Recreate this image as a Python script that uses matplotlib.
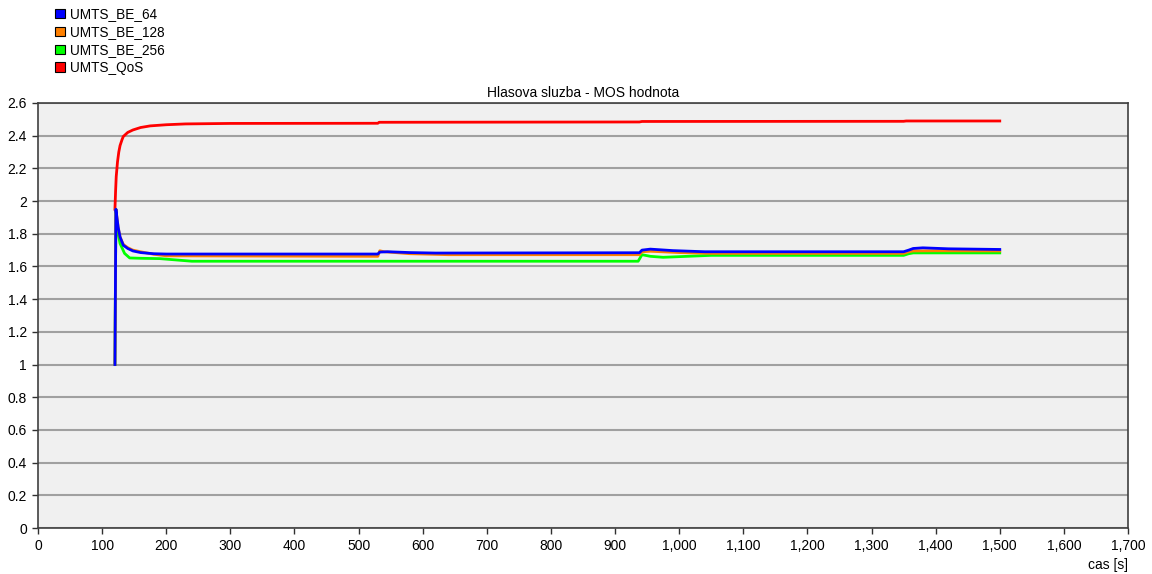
import numpy as np
import matplotlib
matplotlib.use("Agg")
import matplotlib.pyplot as plt
from matplotlib.patches import Patch
from matplotlib.ticker import FuncFormatter, MultipleLocator

plt.rcParams['font.family'] = ['Liberation Sans', 'DejaVu Sans']
plt.rcParams['font.size'] = 10

# values (time in s, MOS value)
t_be64 = [120, 121.5, 125, 128, 133, 140, 148, 160, 180, 200, 530, 533, 545, 580, 620,
          938, 942, 955, 990, 1040, 1350, 1358, 1365, 1380, 1420, 1500]
mos_be64 = [1.0, 1.95, 1.84, 1.78, 1.73, 1.71, 1.695, 1.685, 1.678, 1.676, 1.676, 1.688, 1.69, 1.685, 1.682,
            1.684, 1.70, 1.706, 1.697, 1.69, 1.69, 1.70, 1.71, 1.714, 1.708, 1.704]

t_be128 = [120, 121.5, 125, 128, 133, 140, 148, 160, 180, 200, 530, 533, 540, 580, 640,
           938, 942, 955, 1000, 1050, 1350, 1358, 1365, 1400, 1500]
mos_be128 = [1.0, 1.95, 1.84, 1.78, 1.735, 1.715, 1.70, 1.69, 1.675, 1.665, 1.662, 1.696, 1.69, 1.678, 1.672,
             1.672, 1.69, 1.693, 1.685, 1.68, 1.68, 1.69, 1.695, 1.696, 1.695]

t_be256 = [120, 121.5, 124, 128, 135, 143, 160, 190, 215, 240, 936, 942, 955, 975, 1000, 1050,
           1350, 1358, 1365, 1500]
mos_be256 = [1.0, 1.95, 1.82, 1.74, 1.68, 1.652, 1.65, 1.648, 1.64, 1.632, 1.632, 1.672, 1.662, 1.656, 1.66, 1.668,
             1.668, 1.678, 1.683, 1.683]

t_qos = [120, 121, 122, 124, 126, 128, 131, 133, 140, 148, 160, 175, 200, 230, 300, 530, 532,
         938, 942, 1350, 1354, 1500]
mos_qos = [1.95, 2.06, 2.15, 2.24, 2.30, 2.34, 2.375, 2.395, 2.42, 2.435, 2.45, 2.46, 2.467, 2.472, 2.475, 2.476, 2.482,
           2.484, 2.487, 2.488, 2.49, 2.49]

series_names = ["UMTS_BE_64", "UMTS_BE_128", "UMTS_BE_256", "UMTS_QoS"]
series_colors = ["#0000ff", "#ff8000", "#00ff00", "#ff0000"]

fig = plt.figure(figsize=(11.52, 5.74), dpi=100)
ax = fig.add_axes([38 / 1152, 1 - 528 / 574, 1090 / 1152, 425 / 574])
ax.set_facecolor("#f0f0f0")

ax.plot(t_qos, mos_qos, color=series_colors[3], lw=2, zorder=3)
ax.plot(t_be256, mos_be256, color=series_colors[2], lw=2, zorder=3)
ax.plot(t_be128, mos_be128, color=series_colors[1], lw=2, zorder=3)
ax.plot(t_be64, mos_be64, color=series_colors[0], lw=2, zorder=3)

ax.set_xlim(0, 1700)
ax.set_ylim(0, 2.6)
ax.xaxis.set_major_locator(MultipleLocator(100))
ax.yaxis.set_major_locator(MultipleLocator(0.2))
ax.xaxis.set_major_formatter(FuncFormatter(lambda v, p: f"{int(round(v)):,}"))
ax.yaxis.set_major_formatter(FuncFormatter(lambda v, p: f"{v:.1f}".rstrip('0').rstrip('.')))
ax.grid(axis='y', color='#a0a0a0', lw=1.5)
ax.set_axisbelow(True)
ax.tick_params(direction='out', length=4, width=1, colors='#303030', labelcolor='black', pad=4)
for s in ax.spines.values():
    s.set_color('#404040')
    s.set_linewidth(1.2)

ax.set_title("Hlasova sluzba - MOS hodnota", fontsize=10, pad=4)
ax.set_xlabel("cas [s]", loc='right', labelpad=3.5)

handles = [Patch(facecolor=c, edgecolor='black', lw=0.8) for c in series_colors]
fig.legend(handles, series_names, loc='upper left', bbox_to_anchor=(50 / 1152, 1 - 2 / 574),
           frameon=False, handlelength=0.7, handleheight=0.7, handletextpad=0.35,
           labelspacing=0.28, borderaxespad=0, fontsize=9.8)

plt.savefig("out.png", dpi=100)
plt.close()
